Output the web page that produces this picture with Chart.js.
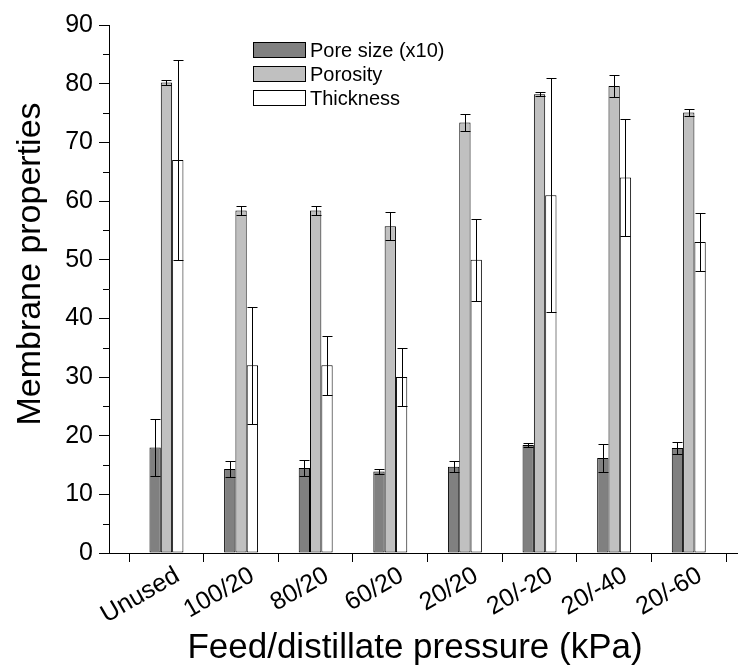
<!DOCTYPE html>
<html>
<head>
<meta charset="utf-8">
<script src="https://cdn.jsdelivr.net/npm/chart.js@4.4.1/dist/chart.umd.min.js"></script>
<style>
    html, body { margin: 0; padding: 0; background: #fff; }
    #wrap { width: 738px; height: 667px; }
</style>
</head>
<body>
<div id="wrap"><canvas id="chart" width="738" height="667"></canvas></div>
<script>
// --- Data ---
const categories = ['Unused', '100/20', '80/20', '60/20', '20/20', '20/-20', '20/-40', '20/-60'];
const seriesNames = ['Pore size (x10)', 'Porosity', 'Thickness'];

const poreSize = [18.0, 14.3, 14.5, 13.9, 14.7, 18.4, 16.2, 17.9];
const poreSizeErr = [4.9, 1.4, 1.35, 0.5, 0.9, 0.4, 2.4, 1.0];

const porosity = [80.2, 58.4, 58.4, 55.7, 73.4, 78.2, 79.6, 75.1];
const porosityErr = [0.5, 0.8, 0.8, 2.4, 1.4, 0.3, 1.8, 0.6];

const thickness = [67, 32, 32, 30, 50, 61, 64, 53];
const thicknessErr = [17, 10, 5, 5, 7, 20, 10, 5];

const yTicksMajor = [0, 10, 20, 30, 40, 50, 60, 70, 80, 90];

const xTitle = 'Feed/distillate pressure (kPa)';
const yTitle = 'Membrane properties';

const FONT = "'Liberation Sans', Arial, sans-serif";

function toPoints(values) {
    return values.map((v, i) => ({ x: i + 1, y: v }));
}

// --- Plugins ---
const errorBars = {
    id: 'errorBars',
    afterDatasetsDraw(chart) {
        const ctx = chart.ctx;
        const y = chart.scales.y;
        ctx.save();
        ctx.strokeStyle = '#000';
        ctx.lineWidth = 1;
        chart.data.datasets.forEach((ds, di) => {
            const meta = chart.getDatasetMeta(di);
            meta.data.forEach((bar, i) => {
                const v = ds.data[i].y;
                const e = ds.errors[i];
                const top = Math.round(y.getPixelForValue(v + e)) + 0.5;
                const bot = Math.round(y.getPixelForValue(v - e)) + 0.5;
                const x = Math.round(bar.x) + 0.5;
                ctx.beginPath();
                ctx.moveTo(x, top); ctx.lineTo(x, bot);
                ctx.moveTo(x - 5, top); ctx.lineTo(x + 5, top);
                ctx.moveTo(x - 5, bot); ctx.lineTo(x + 5, bot);
                ctx.stroke();
            });
        });
        ctx.restore();
    }
};

const minorTicks = {
    id: 'minorTicks',
    afterDraw(chart) {
        const ctx = chart.ctx;
        const y = chart.scales.y;
        const x0 = chart.chartArea.left;
        ctx.save();
        ctx.strokeStyle = '#000';
        ctx.lineWidth = 1;
        ctx.beginPath();
        for (let v = 5; v < 90; v += 10) {
            const py = Math.round(y.getPixelForValue(v)) + 0.5;
            ctx.moveTo(x0 - 6, py);
            ctx.lineTo(x0, py);
        }
        ctx.stroke();
        ctx.restore();
    }
};

// rotated category labels and both axis titles
const axisText = {
    id: 'axisText',
    afterDraw(chart) {
        const ctx = chart.ctx;
        const x = chart.scales.x;
        const area = chart.chartArea;
        ctx.save();
        ctx.fillStyle = '#000';

        ctx.font = '25px ' + FONT;
        ctx.textAlign = 'right';
        ctx.textBaseline = 'top';
        categories.forEach((c, i) => {
            const px = x.getPixelForValue(i + 1);
            ctx.save();
            ctx.translate(px + 5, area.bottom + 10);
            ctx.rotate(-Math.PI / 6);
            ctx.fillText(c, 0, 0);
            ctx.restore();
        });

        ctx.font = '35px ' + FONT;
        ctx.textAlign = 'center';
        ctx.textBaseline = 'alphabetic';
        ctx.fillText(xTitle, 415, 658);

        ctx.font = '34px ' + FONT;
        ctx.save();
        ctx.translate(40, 264);
        ctx.rotate(-Math.PI / 2);
        ctx.fillText(yTitle, 0, 0);
        ctx.restore();

        ctx.restore();
    }
};

const boxLegend = {
    id: 'boxLegend',
    afterDraw(chart) {
        const ctx = chart.ctx;
        const left = 253, top = 42, w = 52, h = 15, gap = 23.8;
        ctx.save();
        ctx.font = '20px ' + FONT;
        ctx.textBaseline = 'middle';
        chart.data.datasets.forEach((ds, i) => {
            const y = Math.round(top + i * gap) + 0.5;
            ctx.fillStyle = ds.backgroundColor;
            ctx.fillRect(left + 0.5, y, w, h);
            ctx.strokeStyle = '#000';
            ctx.lineWidth = 1;
            ctx.strokeRect(left + 0.5, y, w, h);
            ctx.fillStyle = '#000';
            ctx.fillText(ds.label, left + w + 5, y + h / 2 + 1);
        });
        ctx.restore();
    }
};

// --- Chart ---
const barStyle = { borderColor: '#000', borderWidth: 1, borderSkipped: false };

new Chart(document.getElementById('chart'), {
    type: 'bar',
    data: {
        datasets: [
            { label: seriesNames[0], data: toPoints(poreSize), errors: poreSizeErr, backgroundColor: '#808080', ...barStyle },
            { label: seriesNames[1], data: toPoints(porosity), errors: porosityErr, backgroundColor: '#c0c0c0', ...barStyle },
            { label: seriesNames[2], data: toPoints(thickness), errors: thicknessErr, backgroundColor: '#ffffff', ...barStyle }
        ]
    },
    options: {
        responsive: false,
        animation: false,
        layout: { padding: { top: 25, right: 0, left: 0, bottom: 0 } },
        datasets: { bar: { categoryPercentage: 0.455, barPercentage: 1.0 } },
        plugins: { legend: { display: false }, tooltip: { enabled: false } },
        scales: {
            x: {
                type: 'linear',
                min: 0.23,
                max: 8.66,
                offset: false,
                afterBuildTicks: s => { s.ticks = categories.map((c, i) => ({ value: i + 1 })); },
                afterFit: s => { s.height = 114; },
                grid: { display: true, drawOnChartArea: false, drawTicks: true, tickLength: 9, color: '#000', lineWidth: 1 },
                border: { display: true, color: '#000', width: 1 },
                ticks: { display: false }
            },
            y: {
                min: 0,
                max: 90,
                afterBuildTicks: s => { s.ticks = yTicksMajor.map(v => ({ value: v })); },
                afterFit: s => { s.width = 109; },
                grid: { display: true, drawOnChartArea: false, drawTicks: true, tickLength: 10, color: '#000', lineWidth: 1 },
                border: { display: true, color: '#000', width: 1 },
                ticks: {
                    padding: 6,
                    color: '#000',
                    font: { family: FONT, size: 25 }
                }
            }
        }
    },
    plugins: [errorBars, minorTicks, axisText, boxLegend]
});
</script>
</body>
</html>
